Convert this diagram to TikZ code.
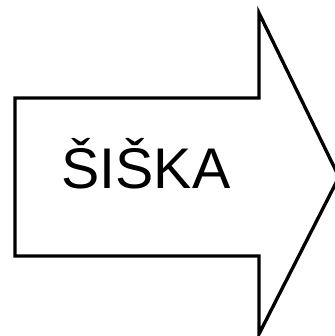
\documentclass[tikz,border=0pt]{standalone}
\usepackage{fontspec}
\setmainfont{Liberation Sans}
\usepackage{tikz}

\begin{document}
\begin{tikzpicture}[
	x=0.75pt, y=-0.75pt,
	obrys/.style={draw=black, line width=2.5pt, line join=miter},
	napis/.style={inner sep=0pt, anchor=base, font=\fontsize{43}{50}\selectfont},
]
\useasboundingbox (0,0) rectangle (335,336);

% sipka
\draw[obrys] (15,98) -- (259,98) -- (259,13) -- (339,177) -- (259,334) -- (259,256) -- (15,256) -- cycle;

\node[napis] (siska) at (146,188) {ŠIŠKA};
\end{tikzpicture}
\end{document}
